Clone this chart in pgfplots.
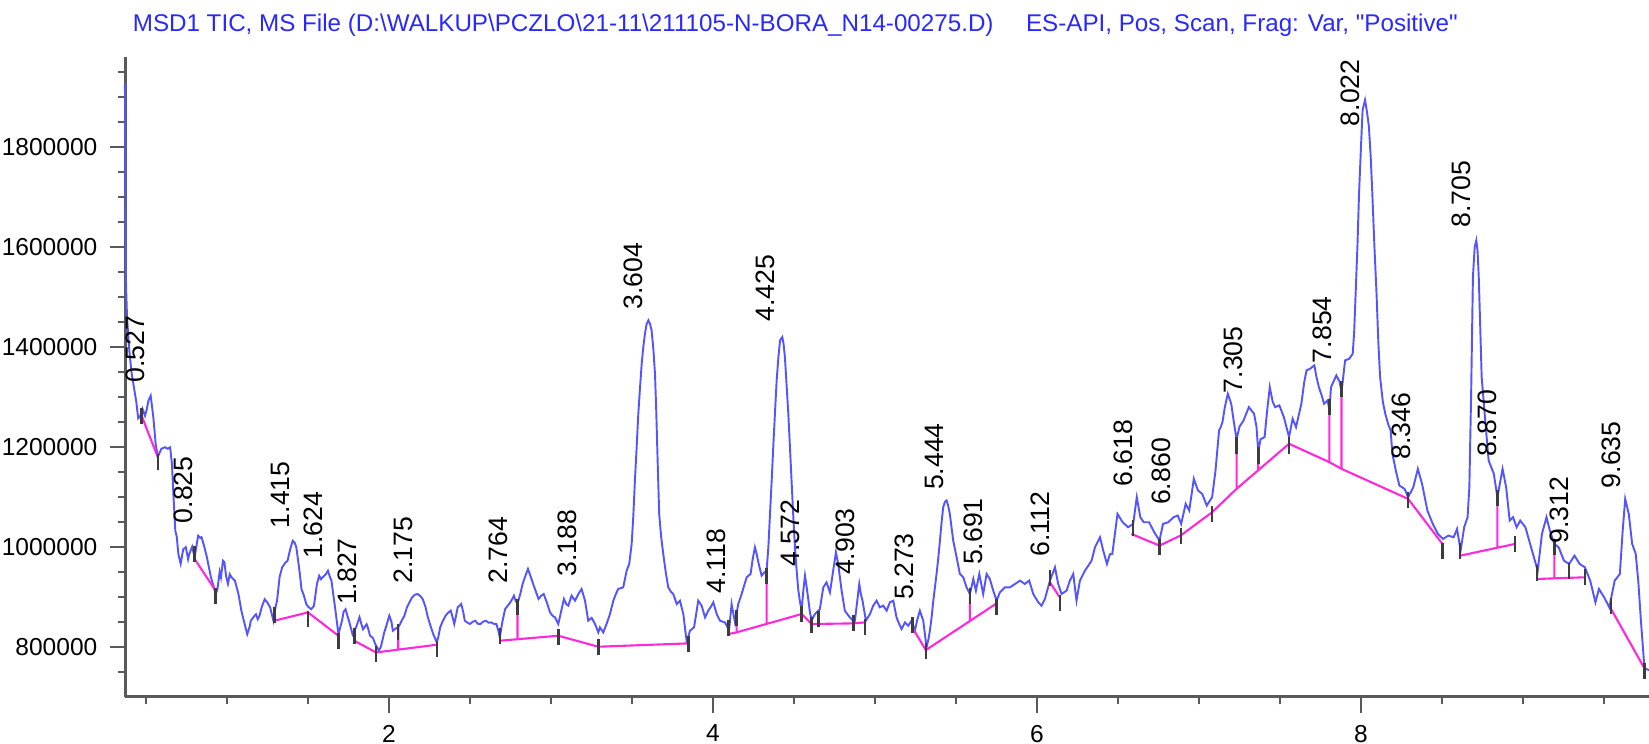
\documentclass[border=0pt]{standalone}
\usepackage{fontspec}
\setmainfont{Liberation Sans}
\newfontfamily\titlefont{Liberation Sans}
\usepackage{pgfplots}
\pgfplotsset{compat=1.18}
\usepackage{pgfplotstable}
\definecolor{trace}{RGB}{85,85,255}
\definecolor{basel}{RGB}{255,40,220}
\definecolor{titleblue}{RGB}{40,40,255}
\definecolor{axisgray}{RGB}{90,90,90}
\definecolor{tickmk}{RGB}{60,60,60}

\pgfplotstableread{
x y
0.370 1927000
0.372 1800000
0.374 1650000
0.377 1520000
0.383 1460000
0.395 1400000
0.410 1350000
0.425 1320000
0.440 1290000
0.452 1257000
0.465 1262000
0.478 1276000
0.494 1262000
0.505 1275000
0.515 1292000
0.529 1302000
0.545 1260000
0.560 1205000
0.573 1180000
0.595 1196000
0.617 1199000
0.635 1196000
0.649 1199000
0.660 1166000
0.670 1100000
0.681 1032000
0.690 1020000
0.700 985000
0.714 966000
0.730 995000
0.746 999000
0.760 975000
0.768 986000
0.785 1000000
0.800 979000
0.822 1022000
0.835 1018000
0.843 1019000
0.860 1000000
0.876 979000
0.900 940000
0.919 919000
0.930 905000
0.941 915000
0.955 950000
0.963 939000
0.975 972000
0.984 969000
0.995 940000
1.006 926000
1.017 945000
1.028 939000
1.049 932000
1.071 905000
1.090 870000
1.104 852000
1.125 825000
1.140 840000
1.147 852000
1.165 860000
1.179 865000
1.190 855000
1.201 862000
1.215 880000
1.233 895000
1.250 888000
1.266 879000
1.287 852000
1.300 880000
1.309 892000
1.325 940000
1.341 959000
1.360 968000
1.374 972000
1.390 995000
1.406 1012000
1.418 1008000
1.428 999000
1.440 970000
1.450 945000
1.460 915000
1.472 905000
1.490 885000
1.504 879000
1.520 875000
1.537 882000
1.555 925000
1.569 942000
1.580 935000
1.591 939000
1.610 945000
1.623 952000
1.635 940000
1.645 932000
1.660 895000
1.667 879000
1.688 825000
1.700 840000
1.710 852000
1.720 870000
1.732 875000
1.745 860000
1.753 852000
1.775 825000
1.785 832000
1.797 839000
1.818 859000
1.830 845000
1.840 835000
1.862 845000
1.870 838000
1.883 822000
1.900 818000
1.916 805000
1.938 792000
1.950 800000
1.959 812000
1.970 828000
1.981 839000
2.002 862000
2.015 850000
2.024 832000
2.040 836000
2.057 839000
2.068 845000
2.078 852000
2.095 862000
2.111 879000
2.125 888000
2.143 899000
2.160 904000
2.176 905500
2.192 902000
2.208 895500
2.225 880000
2.240 858700
2.258 840000
2.273 825400
2.295 808700
2.305 820000
2.316 838700
2.330 850000
2.349 862100
2.365 868000
2.381 872100
2.392 860000
2.403 845400
2.414 862000
2.424 878800
2.435 882000
2.446 885500
2.458 870000
2.468 852000
2.485 848000
2.500 845400
2.517 850000
2.533 852000
2.548 846000
2.565 845400
2.580 850000
2.598 852000
2.615 848000
2.630 848700
2.645 846000
2.663 845400
2.675 832000
2.684 818700
2.700 850000
2.717 875400
2.733 882000
2.749 888800
2.760 895000
2.771 902200
2.782 892000
2.793 885500
2.810 905000
2.825 925500
2.840 940000
2.858 955600
2.875 940000
2.890 925500
2.905 912000
2.923 895500
2.940 902000
2.955 905500
2.975 888000
2.994 868800
3.010 862000
3.025 858700
3.045 845400
3.066 875400
3.080 895500
3.095 885000
3.107 882100
3.127 902100
3.148 892100
3.169 905500
3.189 915500
3.210 892100
3.230 852100
3.251 857700
3.272 845400
3.292 828700
3.302 838700
3.323 828700
3.343 845400
3.364 865400
3.385 892100
3.400 905000
3.415 915500
3.446 918800
3.467 952200
3.483 965600
3.498 1005600
3.508 1060000
3.518 1132500
3.529 1200000
3.539 1266000
3.550 1320000
3.560 1366100
3.570 1400000
3.580 1426200
3.590 1445000
3.601 1452900
3.611 1446000
3.621 1432900
3.632 1395000
3.642 1346100
3.649 1280000
3.656 1199200
3.662 1130000
3.668 1065700
3.680 1020000
3.693 985600
3.708 950000
3.724 918800
3.740 910000
3.755 905500
3.776 885500
3.796 892100
3.817 865400
3.830 830000
3.837 812000
3.848 820000
3.858 832100
3.883 838700
3.896 865000
3.909 892100
3.930 882100
3.951 858700
3.971 872100
3.987 880000
4.002 888800
4.023 865400
4.043 852100
4.060 850000
4.074 848700
4.088 840000
4.099 832100
4.115 885500
4.136 848700
4.156 885500
4.177 905500
4.190 920000
4.208 938900
4.232 945500
4.245 975000
4.259 998900
4.270 985000
4.280 968900
4.300 942200
4.315 948000
4.331 952200
4.342 1000000
4.352 1065700
4.362 1130000
4.372 1199200
4.383 1270000
4.393 1332700
4.404 1380000
4.414 1412900
4.428 1419500
4.436 1405000
4.444 1379500
4.455 1320000
4.465 1266000
4.475 1200000
4.485 1132500
4.495 1065000
4.506 998900
4.517 950000
4.527 912200
4.537 890000
4.547 872100
4.557 910000
4.568 942200
4.578 920000
4.588 895500
4.598 870000
4.609 852100
4.620 860000
4.630 865400
4.650 872100
4.660 875400
4.671 898800
4.681 918800
4.701 928800
4.722 908800
4.742 952200
4.759 988900
4.773 965600
4.794 912200
4.814 872100
4.830 865000
4.845 858700
4.866 852100
4.876 852100
4.890 890000
4.903 925500
4.913 905000
4.923 892100
4.944 852100
4.969 865400
4.989 882100
5.010 892100
5.030 878800
5.051 882100
5.072 872100
5.092 888800
5.113 892100
5.133 858700
5.150 845000
5.164 835400
5.185 848700
5.205 842000
5.226 852100
5.246 832100
5.262 855000
5.277 872100
5.298 852100
5.318 798700
5.330 815000
5.339 832100
5.350 860000
5.360 892100
5.380 945500
5.390 975000
5.401 1012300
5.410 1045000
5.421 1079000
5.432 1090000
5.442 1092400
5.452 1082000
5.462 1065700
5.472 1040000
5.483 1012300
5.504 978900
5.524 945500
5.545 938900
5.565 918800
5.586 905500
5.607 935500
5.623 912200
5.644 945500
5.668 905500
5.689 945500
5.709 935500
5.730 912200
5.751 892100
5.771 908800
5.802 918800
5.833 918800
5.864 925500
5.895 932200
5.925 925500
5.952 932200
5.977 905500
6.008 888800
6.028 882100
6.049 895500
6.080 932200
6.111 958900
6.131 925500
6.152 905500
6.183 912200
6.203 932200
6.224 945500
6.244 892100
6.265 932200
6.296 952200
6.317 962200
6.337 972200
6.358 998900
6.389 1018900
6.409 992300
6.432 965600
6.450 985000
6.465 985600
6.497 1065700
6.529 1049000
6.562 1039000
6.594 1045700
6.616 1099100
6.638 1059000
6.659 1049000
6.692 1049000
6.724 1029000
6.756 1012300
6.778 1045700
6.810 1049000
6.843 1059000
6.869 1062400
6.890 1045700
6.918 1085700
6.940 1072400
6.968 1135800
6.994 1112400
7.020 1105800
7.048 1082400
7.081 1099100
7.102 1152500
7.124 1232600
7.135 1240000
7.145 1249300
7.160 1280000
7.178 1306000
7.199 1286000
7.215 1250000
7.232 1215000
7.250 1240000
7.275 1252600
7.290 1265000
7.308 1279300
7.340 1266000
7.355 1240000
7.366 1190000
7.380 1215000
7.405 1219300
7.420 1270000
7.437 1319400
7.455 1290000
7.470 1279300
7.496 1282700
7.524 1259300
7.556 1219300
7.578 1256000
7.599 1239300
7.632 1286000
7.650 1330000
7.664 1352800
7.686 1356100
7.712 1362800
7.725 1340000
7.740 1319400
7.760 1300000
7.772 1286000
7.794 1292700
7.805 1274000
7.815 1319400
7.848 1342700
7.868 1330000
7.880 1310000
7.902 1372800
7.928 1376100
7.949 1386100
7.958 1430000
7.967 1506300
7.978 1600000
7.988 1706600
8.000 1800000
8.010 1873500
8.025 1893500
8.037 1870000
8.049 1840100
8.060 1780000
8.070 1706600
8.083 1600000
8.096 1506300
8.107 1410000
8.118 1339400
8.135 1290000
8.150 1266000
8.168 1245000
8.183 1232600
8.194 1185900
8.215 1152500
8.237 1122400
8.269 1115800
8.291 1099100
8.323 1119100
8.351 1155800
8.377 1125800
8.410 1072400
8.443 1045700
8.475 1025600
8.507 1015600
8.539 1022300
8.572 1019000
8.593 1035600
8.615 992300
8.637 1039000
8.658 1059000
8.669 1119100
8.680 1306000
8.691 1539700
8.702 1600000
8.712 1613100
8.720 1590000
8.727 1539700
8.737 1430000
8.745 1339400
8.767 1252600
8.788 1172500
8.820 1145800
8.842 1099100
8.874 1155800
8.896 1119100
8.918 1052400
8.939 1059000
8.961 1039000
8.983 1052400
9.015 1039000
9.047 1002300
9.091 952200
9.117 1025600
9.145 1059000
9.166 1032300
9.194 1005600
9.220 999000
9.253 972200
9.285 965600
9.318 982200
9.350 965600
9.382 958900
9.415 932200
9.447 888800
9.469 915500
9.501 898800
9.533 878800
9.566 932200
9.598 945500
9.615 1030000
9.631 1095700
9.653 1065700
9.674 1005600
9.696 985600
9.712 930000
9.728 852100
9.740 800000
9.750 756600
9.778 753300
}\tracedata

\pgfplotstableread{
x y
0.473 1262000
0.573 1179200
nan nan
0.800 975600
0.930 912000
nan nan
1.292 852000
1.500 868700
1.688 822000
nan nan
1.786 812000
1.920 788600
2.295 804000
nan nan
2.684 812000
3.045 822000
3.292 800000
3.848 806700
nan nan
4.095 825400
4.146 828700
4.547 865400
4.609 845400
4.866 846700
4.938 848700
nan nan
5.236 835400
5.314 793300
5.751 886800
nan nan
6.080 928800
6.141 898800
nan nan
6.583 1025600
6.756 1002300
6.886 1022300
7.081 1069000
7.232 1115800
7.556 1205900
7.805 1169200
7.880 1155800
8.291 1095700
8.503 1005600
nan nan
8.615 982300
8.950 1005600
nan nan
9.086 935500
9.382 938900
nan nan
9.544 875400
9.750 756600
nan nan
2.057 838700
2.057 792000
nan nan
2.793 888800
2.793 815000
nan nan
4.146 865400
4.146 828700
nan nan
4.331 935500
4.331 845400
nan nan
5.586 908800
5.586 852100
nan nan
7.232 1212600
7.232 1115800
nan nan
7.366 1189200
7.366 1152500
nan nan
7.805 1272700
7.805 1169200
nan nan
7.880 1309400
7.880 1155800
nan nan
8.842 1085700
8.842 998900
nan nan
9.194 992300
9.194 938900
}\basedata

\pgfplotstableread{
x y
0.473 1262000
0.573 1169200
0.799 985600
0.930 902100
1.292 863400
1.500 855400
1.688 810700
1.786 822000
1.920 785300
2.057 828700
2.295 795300
2.684 822000
2.793 880100
3.045 818700
3.292 800000
3.848 805300
4.095 837400
4.146 857400
4.331 942200
4.547 865400
4.609 844100
4.650 855400
4.866 846700
4.938 838700
5.232 844100
5.314 790700
5.586 902100
5.751 880100
6.080 937500
6.141 886800
6.594 1037700
6.756 1000300
6.890 1022300
7.081 1065700
7.232 1202600
7.366 1182500
7.556 1202600
7.805 1279300
7.880 1316000
8.291 1093700
8.503 992300
8.611 990900
8.842 1097700
8.950 1005600
9.086 946900
9.194 1000300
9.285 950900
9.382 938900
9.544 882100
9.750 750600
}\markdata

\pgfplotstableread{
x y lab
0.494 1326700 0.527
0.790 1045700 0.825
1.392 1035700 1.415
1.595 975600 1.624
1.803 882100 1.827
2.149 925600 2.175
2.739 925600 2.764
3.163 938900 3.188
3.570 1472900 3.604
4.085 905500 4.118
4.383 1449600 4.425
4.541 958800 4.572
4.877 942200 4.903
5.241 892100 5.273
5.426 1112400 5.444
5.669 962200 5.691
6.085 978900 6.112
6.595 1119100 6.618
6.832 1082400 6.860
7.275 1306000 7.305
7.826 1366100 7.854
7.999 1840100 8.022
8.312 1172500 8.346
8.680 1636800 8.705
8.842 1179200 8.870
9.285 1005600 9.312
9.609 1115800 9.635
}\labdata

\begin{document}
\begin{tikzpicture}
\begin{axis}[
  name=ax,
  scale only axis,
  width=434.6pt, height=182.55pt,
  xmin=0.3735, xmax=9.778,
  ymin=700000, ymax=1980000,
  axis lines=left,
  axis line style={-, draw=axisgray, line width=0.7pt},
  xtick={2,4,6,8},
  minor xtick={0.5,1,1.5,2.5,3,3.5,4.5,5,5.5,6.5,7,7.5,8.5,9,9.5},
  ytick={800000,1000000,1200000,1400000,1600000,1800000},
  minor ytick={750000,850000,900000,950000,1050000,1100000,1150000,1250000,1300000,1350000,1450000,1500000,1550000,1650000,1700000,1750000,1850000,1900000,1950000},
  tick align=outside,
  major tick length=4.5pt,
  minor tick length=2.2pt,
  every tick/.style={draw=axisgray, line width=0.7pt},
  scaled y ticks=false,
  yticklabel style={/pgf/number format/fixed, /pgf/number format/1000 sep={}},
  /pgf/number format/assume math mode=true,
  ticklabel style={font=\fontsize{7}{8}\selectfont, text=black},
  clip=false,
  unbounded coords=jump,
]
\addplot[trace, line width=0.55pt] table[x=x,y=y] {\tracedata};
\addplot[basel, line width=0.6pt] table[x=x,y=y] {\basedata};
\addplot[only marks, mark=|, mark size=2.3pt, mark options={draw=tickmk, line width=0.7pt}] table[x=x,y=y] {\markdata};
\addplot[draw=none, mark=none, nodes near coords, point meta=explicit symbolic,
  every node near coord/.append style={rotate=90, anchor=south west, inner sep=0pt, font=\fontsize{7.6}{8}\selectfont, text=black}]
  table[x=x,y=y,meta=lab] {\labdata};
\end{axis}
\node[anchor=base west, inner sep=0pt, font=\titlefont\fontsize{6.9}{8}\selectfont, text=titleblue] at ([xshift=1.9pt,yshift=7.1pt]ax.north west) {MSD1 TIC, MS File (D:\textbackslash WALKUP\textbackslash PCZLO\textbackslash 21-11\textbackslash 211105-N-BORA\_N14-00275.D)};
\node[anchor=base west, inner sep=0pt, font=\titlefont\fontsize{6.9}{8}\selectfont, text=titleblue] at ([xshift=256.7pt,yshift=7.1pt]ax.north west) {ES-API, Pos, Scan, Frag: Var, "Positive"};
\pgfresetboundingbox
\path[use as bounding box] ([xshift=-35.8pt,yshift=-13.4pt]ax.south west) rectangle ([yshift=16.2pt]ax.north east);
\end{tikzpicture}
\end{document}
